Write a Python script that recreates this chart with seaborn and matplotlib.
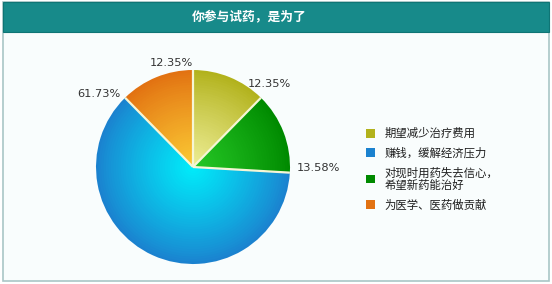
import numpy as np
import matplotlib
matplotlib.use("Agg")
import matplotlib.pyplot as plt
from matplotlib.colors import to_rgb
from matplotlib.patches import Rectangle, Patch
import seaborn as sns

# Survey data (legend order)
title = "你参与试药，是为了"
categories = ["期望减少治疗费用", "赚钱，缓解经济压力",
              "对现时用药失去信心，\n希望新药能治好", "为医学、医药做贡献"]
percents = [12.35, 61.73, 13.58, 12.35]
# Order in which slices run clockwise from 12 o'clock
pie_order = [0, 2, 1, 3]

# Outer / inner colours of the radial shading for each category
outer_colors = ["#b2b21c", "#1b82cf", "#008a00", "#e27212"]
inner_colors = ["#eeee96", "#00ecfa", "#26c826", "#fbcb34"]

sns.set_theme(style="white")
plt.rcParams["font.family"] = ["Noto Sans CJK SC", "DejaVu Sans"]

W, H = 552, 284
fig = plt.figure(figsize=(W / 100, H / 100), dpi=100)
fig.patch.set_facecolor("#ffffff")

# Panel frame and title bar
bg = fig.add_axes([0, 0, 1, 1])
bg.set_xlim(0, W)
bg.set_ylim(H, 0)
bg.axis("off")
bg.add_patch(Rectangle((3, 2), 546, 279, facecolor="#f9fdfd",
                       edgecolor="#a9c6c6", linewidth=1.2))
bg.add_patch(Rectangle((3, 2), 546, 30, facecolor="#178a8a",
                       edgecolor="#0f7575", linewidth=0.8))
bg.text(249, 17, title, color="white", fontsize=9.2, fontweight="bold",
        ha="center", va="center")

# Pie axes: centre (193,167) px, radius 97 px
cx, cy, R = 193, 167, 97
ax = fig.add_axes([(cx - R) / W, (H - cy - R) / H, 2 * R / W, 2 * R / H])
ax.set_xlim(-1, 1)
ax.set_ylim(-1, 1)
ax.axis("off")

vals = [percents[i] for i in pie_order]
outs = [np.array(to_rgb(outer_colors[i])) for i in pie_order]
ins = [np.array(to_rgb(inner_colors[i])) for i in pie_order]

# Radial shading: stacked pies of shrinking radius
n_layers = 40
for k in range(n_layers):
    t = k / (n_layers - 1)
    rad = 1.0 - t * 0.985
    cols = [tuple(o + (i - o) * t ** 0.9) for o, i in zip(outs, ins)]
    ax.pie(vals, colors=cols, radius=rad, startangle=90, counterclock=False,
           wedgeprops=dict(linewidth=0, antialiased=True))
ax.set_xlim(-1, 1)
ax.set_ylim(-1, 1)

# Light separators between slices and percentage labels at slice ends
total = sum(vals)
cum = np.cumsum(vals)
label_ha = ["center", "left", "right", "right"]
label_va = ["bottom", "bottom", "center", "center"]
label_r = [1.12, 1.07, 1.06, 1.07]
starts = np.concatenate([[0], cum[:-1]])
for s in starts:
    a = np.deg2rad(90 - s / total * 360)
    ax.plot([0, np.cos(a)], [0, np.sin(a)], color="#f6f6d6", lw=1.6,
            solid_capstyle="butt", zorder=5)
for j, (v, e) in enumerate(zip(vals, cum)):
    a = np.deg2rad(90 - e / total * 360)
    ax.text(label_r[j] * np.cos(a), label_r[j] * np.sin(a), f"{v:.2f}%",
            ha=label_ha[j], va=label_va[j], fontsize=8.2, color="#333333",
            family="DejaVu Sans", clip_on=False)

# Legend
handles = [Patch(facecolor=outer_colors[i], edgecolor="none")
           for i in range(len(categories))]
leg = fig.legend(handles, categories, loc="upper left",
                 bbox_to_anchor=(366 / W, 1 - 128 / H), frameon=False,
                 fontsize=8.2, handlelength=0.8, handleheight=0.8,
                 handletextpad=0.8, labelspacing=0.72, borderpad=0,
                 borderaxespad=0)
for t in leg.get_texts():
    t.set_color("#1e1e1e")

fig.savefig("out.png", dpi=100)
